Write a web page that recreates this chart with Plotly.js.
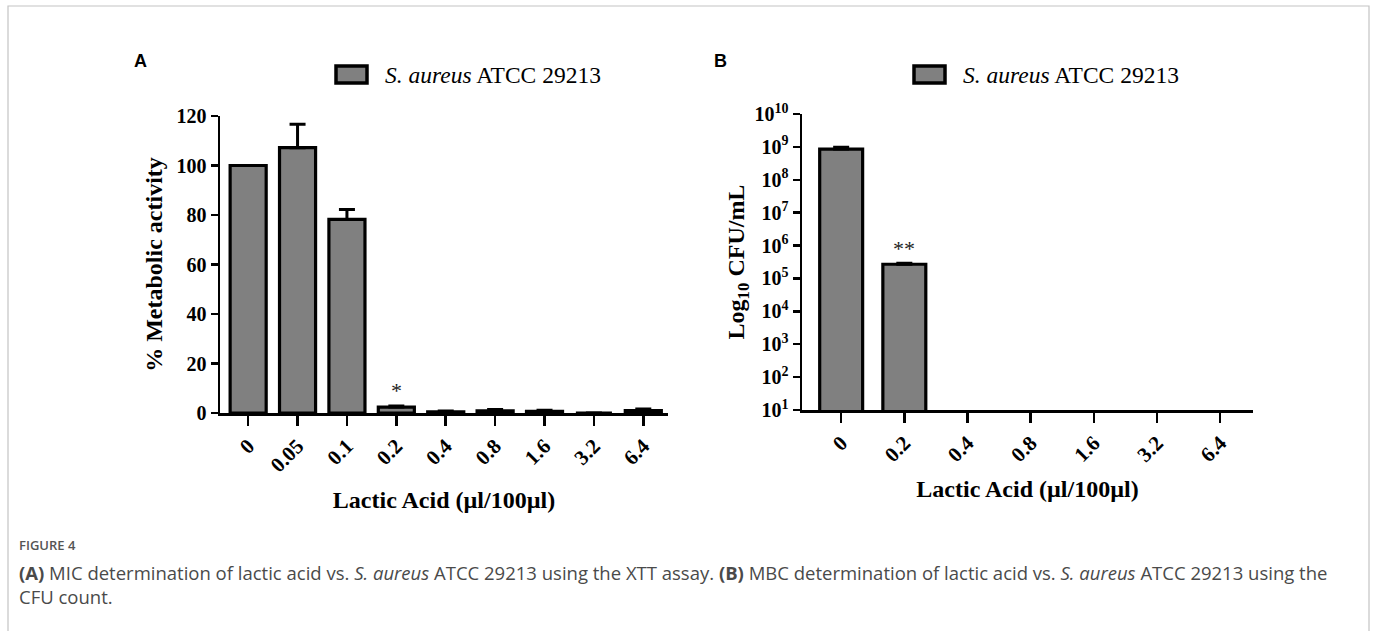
<!DOCTYPE html>
<html>
<head>
<meta charset="utf-8">
<script src="https://cdn.plot.ly/plotly-3.0.1.min.js"></script>
<style>
html,body{margin:0;padding:0;background:#fff;}
#chart{width:1375px;height:631px;}
</style>
</head>
<body>
<div id="chart"></div>
<script>
// ---- Data ----
const catsA = ['0','0.05','0.1','0.2','0.4','0.8','1.6','3.2','6.4'];
const metabolicA = [100, 107.2, 78.2, 2.4, 0.5, 0.9, 0.7, 0, 1.0];
const metabolicErrA = [0, 9.5, 4.0, 0.4, 0.3, 0.5, 0.4, 0, 0.6];

const catsB = ['0','0.2','0.4','0.8','1.6','3.2','6.4'];
const cfuB = [8.6e8, 2.7e5, 0, 0, 0, 0, 0];
const cfuErrB = [1.2e8, 0.2e5, 0, 0, 0, 0, 0];

const logTickVals = [1e1,1e2,1e3,1e4,1e5,1e6,1e7,1e8,1e9,1e10];
const logTickText = ['10<sup>1</sup>','10<sup>2</sup>','10<sup>3</sup>','10<sup>4</sup>','10<sup>5</sup>',
                     '10<sup>6</sup>','10<sup>7</sup>','10<sup>8</sup>','10<sup>9</sup>','10<sup>10</sup>'];
const seriesName = 'S. aureus ATCC 29213';

// ---- Layout helpers (pixel -> paper) ----
const W = 1375, H = 631;
const px = x => x / W;
const py = y => 1 - y / H;

const serif = 'Liberation Serif, Times New Roman, serif';
const sans = 'Open Sans, Noto Sans, sans-serif';
const black = '#000';
const barFill = '#808080';

const traces = [
  {
    type: 'bar', x: catsA, y: metabolicA, xaxis: 'x', yaxis: 'y', name: seriesName,
    width: 0.73,
    marker: {color: barFill, line: {color: black, width: 3.2}},
    error_y: {type: 'data', array: metabolicErrA, arrayminus: metabolicErrA.map(() => 0),
              symmetric: false, color: black, thickness: 3, width: 8},
    showlegend: false, hoverinfo: 'x+y'
  },
  {
    type: 'bar', x: catsB, y: cfuB, xaxis: 'x2', yaxis: 'y2', name: seriesName,
    width: 0.68,
    marker: {color: barFill, line: {color: black, width: 3.2}},
    error_y: {type: 'data', array: cfuErrB, arrayminus: cfuErrB.map(() => 0),
              symmetric: false, color: black, thickness: 3, width: 8},
    showlegend: false, hoverinfo: 'x+y'
  }
];

const tickFontBold = {family: serif, size: 20, color: black, weight: 'bold'};
const xTickFont = {family: serif, size: 21, color: black, weight: 'bold'};
const xTitleFont = {family: serif, size: 24, color: black, weight: 'bold'};
const yTitleFont = {family: serif, size: 24, color: black, weight: 'bold'};

const axisCommon = {
  showgrid: false, zeroline: false, showline: true, linecolor: black, linewidth: 2.5,
  ticks: 'outside', tickcolor: black, tickwidth: 2.5, fixedrange: true
};

function ann(text, x, y, opts) {
  return Object.assign({text: text, xref: 'paper', yref: 'paper', x: px(x), y: py(y),
    xanchor: 'center', yanchor: 'middle', showarrow: false}, opts || {});
}

const layout = {
  width: W, height: H,
  margin: {l: 0, r: 0, t: 0, b: 0},
  paper_bgcolor: '#fff', plot_bgcolor: 'rgba(0,0,0,0)',
  showlegend: false,
  xaxis: Object.assign({}, axisCommon, {
    domain: [px(220), px(668)], anchor: 'y', type: 'category',
    range: [-0.57, 8.5], ticklen: 10, tickangle: -45, tickfont: xTickFont,
    title: {text: 'Lactic Acid (µl/100µl)', font: xTitleFont, standoff: 15}
  }),
  yaxis: Object.assign({}, axisCommon, {
    domain: [py(413), py(116)], anchor: 'x', range: [0, 120],
    tickvals: [0,20,40,60,80,100,120], ticklen: 7, tickfont: tickFontBold,
    title: {text: '% Metabolic activity', font: yTitleFont, standoff: 7}
  }),
  xaxis2: Object.assign({}, axisCommon, {
    domain: [px(802), px(1253)], anchor: 'y2', type: 'category',
    range: [-0.62, 6.52], ticklen: 10, tickangle: -45, tickfont: xTickFont,
    title: {text: 'Lactic Acid (µl/100µl)', font: xTitleFont, standoff: 15}
  }),
  yaxis2: Object.assign({}, axisCommon, {
    domain: [py(410), py(114)], anchor: 'x2', type: 'log', range: [1, 10],
    tickvals: logTickVals, ticktext: logTickText, ticklen: 7, tickfont: tickFontBold,
    title: {text: 'Log<sub>10</sub> CFU/mL', font: yTitleFont, standoff: 3}
  }),
  shapes: [
    // figure frame
    {type: 'rect', xref: 'paper', yref: 'paper', x0: px(8), x1: px(1369), y0: py(640), y1: py(6),
     line: {color: '#c4c4c4', width: 1.2}, fillcolor: 'rgba(0,0,0,0)'},
    // legend swatches
    {type: 'rect', xref: 'paper', yref: 'paper', x0: px(336), x1: px(367), y0: py(83), y1: py(66),
     line: {color: black, width: 3.5}, fillcolor: barFill},
    {type: 'rect', xref: 'paper', yref: 'paper', x0: px(914), x1: px(945), y0: py(83), y1: py(66),
     line: {color: black, width: 3.5}, fillcolor: barFill}
  ],
  annotations: [
    // panel letters
    ann('A', 140, 61, {font: {family: 'Liberation Sans, Arial, sans-serif', size: 18, color: black, weight: 'bold'}}),
    ann('B', 720, 61, {font: {family: 'Liberation Sans, Arial, sans-serif', size: 18, color: black, weight: 'bold'}}),
    // legend texts
    ann('<i>S. aureus</i> ATCC 29213', 383, 75, {xanchor: 'left', font: {family: serif, size: 23.5, color: black}}),
    ann('<i>S. aureus</i> ATCC 29213', 961, 75, {xanchor: 'left', font: {family: serif, size: 23.5, color: black}}),
    // significance marks
    {text: '*', xref: 'x', yref: 'y', x: catsA.indexOf('0.2'), y: metabolicA[3] + metabolicErrA[3],
     xanchor: 'center', yanchor: 'bottom', yshift: 1, showarrow: false,
     font: {family: serif, size: 22, color: '#222'}},
    {text: '**', xref: 'x2', yref: 'y2', x: catsB.indexOf('0.2'), y: Math.log10(cfuB[1] + cfuErrB[1]),
     xanchor: 'center', yanchor: 'bottom', yshift: 0, showarrow: false,
     font: {family: serif, size: 22, color: '#222'}},
    // caption
    ann('FIGURE 4', 17, 545, {xanchor: 'left', font: {family: sans, size: 13, color: '#555', weight: 600}}),
    ann('<b>(A)</b> MIC determination of lactic acid vs. <i>S. aureus</i> ATCC 29213 using the XTT assay. <b>(B)</b> MBC determination of lactic acid vs. <i>S. aureus</i> ATCC 29213 using the',
        17, 572, {xanchor: 'left', font: {family: sans, size: 18.5, color: '#4a4a4a'}}),
    ann('CFU count.', 17, 596, {xanchor: 'left', font: {family: sans, size: 18.5, color: '#4a4a4a'}})
  ]
};

Plotly.newPlot('chart', traces, layout, {displayModeBar: false, staticPlot: true});
</script>
</body>
</html>
